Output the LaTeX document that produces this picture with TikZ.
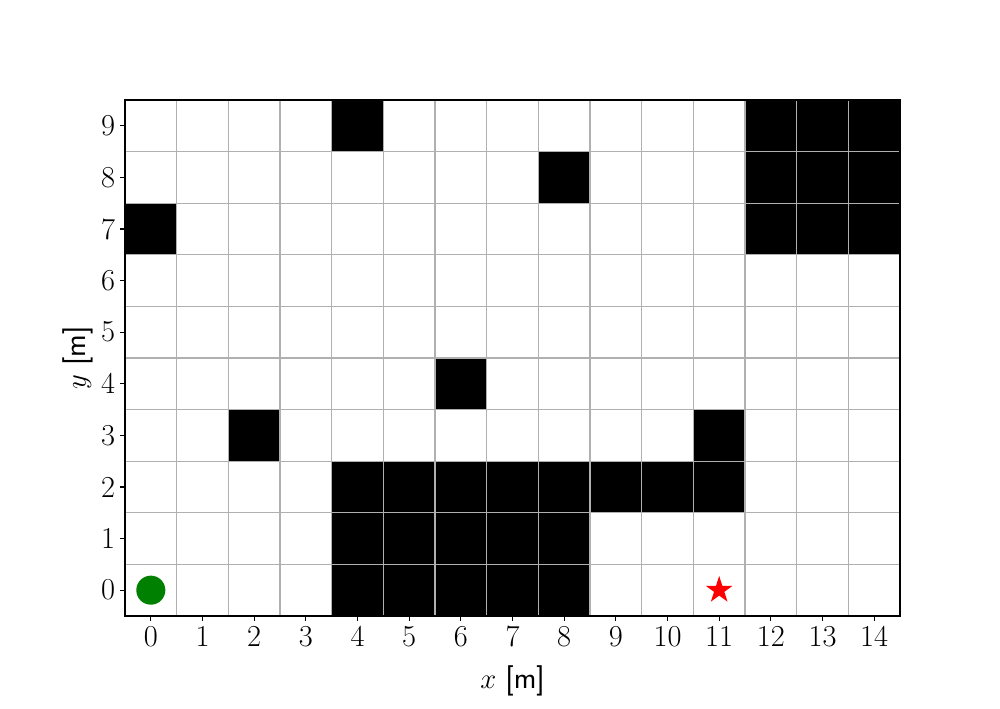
\documentclass[tikz,border=0pt]{standalone}
\usepackage{fontspec}
\usepackage{xcolor}
\usepackage{tikz}
\usetikzlibrary{shapes.geometric}
\definecolor{gridgray}{RGB}{176,176,176}
\definecolor{startgreen}{RGB}{0,128,0}

\begin{document}
\begin{tikzpicture}[x=1.3124cm,y=1.3106cm,font=\fontsize{22}{26}\selectfont]
\tikzset{cell/.style={fill=black},gline/.style={draw=gridgray,line width=0.8pt},tick/.style={line width=0.8pt},lab/.style={inner sep=0pt}}
\useasboundingbox (-2.919,-2.302) rectangle (16.435,11.438);
% occupied cells
\foreach \cx/\cy in {4/9,8/8,0/7,12/7,13/7,14/7,12/8,13/8,14/8,12/9,13/9,14/9,6/4,2/3,11/3,4/2,5/2,6/2,7/2,8/2,9/2,10/2,11/2,4/1,5/1,6/1,7/1,8/1,4/0,5/0,6/0,7/0,8/0}
  \fill[cell] (\cx-0.5,\cy-0.5) rectangle ++(1,1);
% grid
\foreach \gx in {0.5,1.5,...,13.5} \draw[gline] (\gx,-0.5) -- (\gx,9.5);
\foreach \gy in {0.5,1.5,...,8.5} \draw[gline] (-0.5,\gy) -- (14.5,\gy);
\draw[line width=0.8pt] (-0.5,-0.5) rectangle (14.5,9.5);
% ticks
\foreach \i in {0,...,14}{\draw[tick] (\i,-0.5) -- ++(0,-3.5pt);
  \node[lab,anchor=north] (xt\i) at ([yshift=-7pt]\i,-0.5) {\i};}
\foreach \j in {0,...,9}{\draw[tick] (-0.5,\j) -- ++(-3.5pt,0);
  \node[lab,anchor=east] (yt\j) at ([xshift=-7pt]-0.5,\j) {\j};}
% start and goal
\node[circle,fill=startgreen,minimum size=21pt,inner sep=0pt] (start) at (0,0) {};
\node[star,star points=5,star point ratio=2.618,fill=red,minimum size=20.5pt,inner sep=0pt] (goal) at (11,0) {};
\node (xlab) at (7,-1.76) {$x$ \textsf{[m]}};
\node[rotate=90] (ylab) at (-1.409,4.5) {$y$ \textsf{[m]}};
\end{tikzpicture}
\end{document}
